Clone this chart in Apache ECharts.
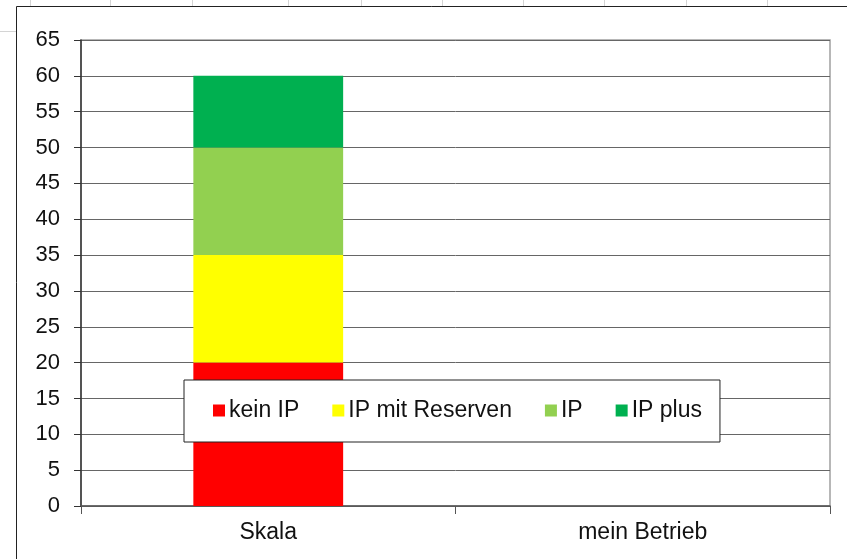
<!DOCTYPE html>
<html>
<head>
<meta charset="utf-8">
<script src="https://cdn.jsdelivr.net/npm/echarts@6/dist/echarts.min.js"></script>
<style>
  html, body { margin: 0; padding: 0; background: #fff; }
  #chart { width: 847px; height: 559px; }
</style>
</head>
<body>
<div id="chart"></div>
<script>
// Kategorien und Werte
var categories = ['Skala', 'mein Betrieb'];
var keinIP = [20, null];
var ipMitReserven = [15, null];
var ip = [15, null];
var ipPlus = [10, null];
var seriesNames = ['kein IP', 'IP mit Reserven', 'IP', 'IP plus'];
var seriesColors = ['#ff0000', '#ffff00', '#92d050', '#00b050'];

var myChart = echarts.init(document.getElementById('chart'));

function bar(name, data, color) {
    return {
        name: name,
        type: 'bar',
        stack: 'gesamt',
        barWidth: '40%',
        data: data,
        itemStyle: { color: color }
    };
}

// Tabellenraster oben (nur dekorativ)
var gridXs = [30, 110, 192, 288, 361, 442, 523, 604, 686, 767];
var deko = gridXs.map(function (x) {
    return { type: 'line', shape: { x1: x + 0.5, y1: 0, x2: x + 0.5, y2: 6 }, style: { stroke: '#d4d4d4', lineWidth: 1 } };
});
deko.push({ type: 'line', shape: { x1: 0, y1: 31.5, x2: 16, y2: 31.5 }, style: { stroke: '#d4d4d4', lineWidth: 1 } });
// Diagrammrahmen
deko.push({ type: 'line', shape: { x1: 16.5, y1: 6.5, x2: 847, y2: 6.5 }, style: { stroke: '#222', lineWidth: 1 } });
deko.push({ type: 'line', shape: { x1: 16.5, y1: 6.5, x2: 16.5, y2: 559 }, style: { stroke: '#222', lineWidth: 1 } });

myChart.setOption({
    animation: false,
    textStyle: { fontFamily: 'Liberation Sans, Arial, sans-serif' },
    graphic: deko,
    grid: {
        left: 81,
        right: 17,
        top: 40,
        bottom: 53,
        show: true,
        borderColor: '#a0a0a0',
        borderWidth: 1.5
    },
    legend: {
        data: seriesNames,
        left: 184,
        top: 380,
        orient: 'horizontal',
        icon: 'rect',
        itemWidth: 12,
        itemHeight: 12,
        itemGap: 33,
        padding: [19, 18, 20, 29],
        backgroundColor: '#fff',
        borderColor: '#222',
        borderWidth: 1,
        textStyle: { fontSize: 23, color: '#111', padding: [0, 0, 0, -1] },
        z: 10
    },
    xAxis: {
        type: 'category',
        data: categories,
        axisLine: { lineStyle: { color: '#555', width: 1.5 } },
        axisTick: { show: true, length: 8, lineStyle: { color: '#555' } },
        axisLabel: { fontSize: 23, color: '#111', margin: 15 }
    },
    yAxis: {
        type: 'value',
        min: 0,
        max: 65,
        interval: 5,
        axisLine: { show: true, lineStyle: { color: '#333', width: 1.5 } },
        axisTick: { show: true, length: 7, lineStyle: { color: '#333' } },
        axisLabel: { fontSize: 22, color: '#111', margin: 21 },
        splitLine: { lineStyle: { color: '#666', width: 1 } }
    },
    series: [
        bar(seriesNames[0], keinIP, seriesColors[0]),
        bar(seriesNames[1], ipMitReserven, seriesColors[1]),
        bar(seriesNames[2], ip, seriesColors[2]),
        bar(seriesNames[3], ipPlus, seriesColors[3])
    ]
});
</script>
</body>
</html>
